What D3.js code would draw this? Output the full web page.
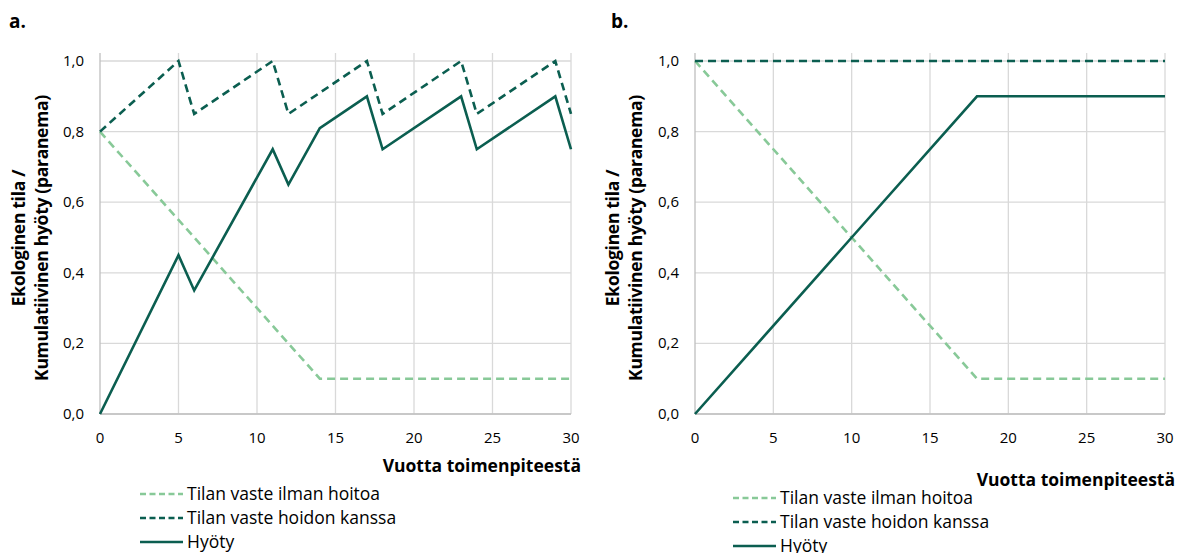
<!DOCTYPE html>
<html lang="fi">
<head>
    <meta charset="UTF-8">
    <title>Ekologinen tila</title>
    <script src="https://cdnjs.cloudflare.com/ajax/libs/d3/7.8.5/d3.min.js"></script>
    <style>
        body { margin: 0; background: #fff; }
        text { font-family: "Open Sans", "Noto Sans", sans-serif; fill: #000; }
    </style>
</head>
<body>
<svg id="chart" width="1193" height="553"></svg>
<script>
    // data, panel a
    var yearsA   = [0, 5, 6, 11, 12, 14, 17, 18, 23, 24, 29, 30];
    var ilmanA   = [0.8, 0.55, 0.5, 0.25, 0.2, 0.1, 0.1, 0.1, 0.1, 0.1, 0.1, 0.1];
    var hoidonA  = [0.8, 1.0, 0.85, 1.0, 0.85, 0.91, 1.0, 0.85, 1.0, 0.85, 1.0, 0.85];
    var hyotyA   = [0.0, 0.45, 0.35, 0.75, 0.65, 0.81, 0.9, 0.75, 0.9, 0.75, 0.9, 0.75];

    // data, panel b
    var yearsB   = [0, 10, 18, 30];
    var ilmanB   = [1.0, 0.5, 0.1, 0.1];
    var hoidonB  = [1.0, 1.0, 1.0, 1.0];
    var hyotyB   = [0.0, 0.5, 0.9, 0.9];

    var xTicks = [0, 5, 10, 15, 20, 25, 30];
    var yTicks = [0, 0.2, 0.4, 0.6, 0.8, 1.0];
    var seriesNames = ["Tilan vaste ilman hoitoa", "Tilan vaste hoidon kanssa", "Hyöty"];
    var yTitle = ["Ekologinen tila /", "Kumulatiivinen hyöty (paranema)"];
    var xTitle = "Vuotta toimenpiteestä";

    var light = "#88c998", dark = "#0b5e50";
    var styles = [
        {color: light, dash: "8,5"},
        {color: dark, dash: "8,5"},
        {color: dark, dash: null}
    ];

    var svg = d3.select("#chart");
    var fmt = function(d) { return d3.format(".1f")(d).replace(".", ","); };

    function panel(o) {
        var g = svg.append("g");
        var x = d3.scaleLinear().domain([0, 30]).range([o.left, o.right]);
        var y = d3.scaleLinear().domain([0, 1]).range([414, 61]);

        g.append("text").attr("x", o.labelX).attr("y", 28)
            .style("font-weight", "bold").style("font-size", "19px").text(o.label);

        // grid
        g.append("g").selectAll("line").data(yTicks).enter().append("line")
            .attr("x1", o.left).attr("x2", o.right)
            .attr("y1", function(d) { return y(d); }).attr("y2", function(d) { return y(d); })
            .attr("stroke", "#d9d9d9").attr("stroke-width", 1.3);
        g.append("g").selectAll("line").data(xTicks).enter().append("line")
            .attr("x1", function(d) { return x(d); }).attr("x2", function(d) { return x(d); })
            .attr("y1", y(0)).attr("y2", y(1) - 8)
            .attr("stroke", function(d) { return d === 0 ? "#bfbfbf" : "#d9d9d9"; })
            .attr("stroke-width", 1.3);
        g.append("line").attr("x1", o.left).attr("x2", o.right)
            .attr("y1", y(0)).attr("y2", y(0)).attr("stroke", "#bfbfbf").attr("stroke-width", 1.3);

        // tick labels
        g.append("g").selectAll("text").data(yTicks).enter().append("text")
            .attr("x", o.left - 16).attr("y", function(d) { return y(d) + 5; })
            .attr("text-anchor", "end").style("font-size", "15px").text(fmt);
        g.append("g").selectAll("text").data(xTicks).enter().append("text")
            .attr("x", function(d) { return x(d); }).attr("y", 443)
            .attr("text-anchor", "middle").style("font-size", "15px").text(function(d) { return d; });

        // axis titles
        yTitle.forEach(function(t, i) {
            g.append("text")
                .attr("transform", "translate(" + (o.yTitleX + i * 23) + ",238) rotate(-90)")
                .attr("text-anchor", "middle")
                .style("font-weight", "bold").style("font-size", "17.5px")
                .style("letter-spacing", "-0.3px")
                .text(t);
        });
        g.append("text").attr("x", o.right + 10).attr("y", o.xTitleY)
            .attr("text-anchor", "end")
            .style("font-weight", "bold").style("font-size", "17.5px").text(xTitle);

        // lines
        var line = d3.line()
            .x(function(d) { return x(d[0]); })
            .y(function(d) { return y(d[1]); });
        o.series.forEach(function(vals, i) {
            var pts = o.years.map(function(yr, j) { return [yr, vals[j]]; });
            g.append("path").datum(pts)
                .attr("d", line)
                .attr("fill", "none")
                .attr("stroke", styles[i].color)
                .attr("stroke-width", 2.6)
                .attr("stroke-dasharray", styles[i].dash);
        });

        // legend
        var lg = g.append("g");
        seriesNames.forEach(function(name, i) {
            var ly = o.legendY + i * 24;
            lg.append("line").attr("x1", o.legendX).attr("x2", o.legendX + 43)
                .attr("y1", ly).attr("y2", ly)
                .attr("stroke", styles[i].color).attr("stroke-width", 2.5)
                .attr("stroke-dasharray", styles[i].dash ? "6,3.5" : null);
            lg.append("text").attr("x", o.legendX + 47).attr("y", ly + 6)
                .style("font-size", "17.5px").text(name);
        });
    }

    panel({
        label: "a.", labelX: 9, left: 100, right: 571,
        yTitleX: 25, xTitleY: 472, legendX: 140, legendY: 494,
        years: yearsA, series: [ilmanA, hoidonA, hyotyA]
    });
    panel({
        label: "b.", labelX: 611, left: 695, right: 1165,
        yTitleX: 619, xTitleY: 486, legendX: 733, legendY: 498,
        years: yearsB, series: [ilmanB, hoidonB, hyotyB]
    });
</script>
</body>
</html>
